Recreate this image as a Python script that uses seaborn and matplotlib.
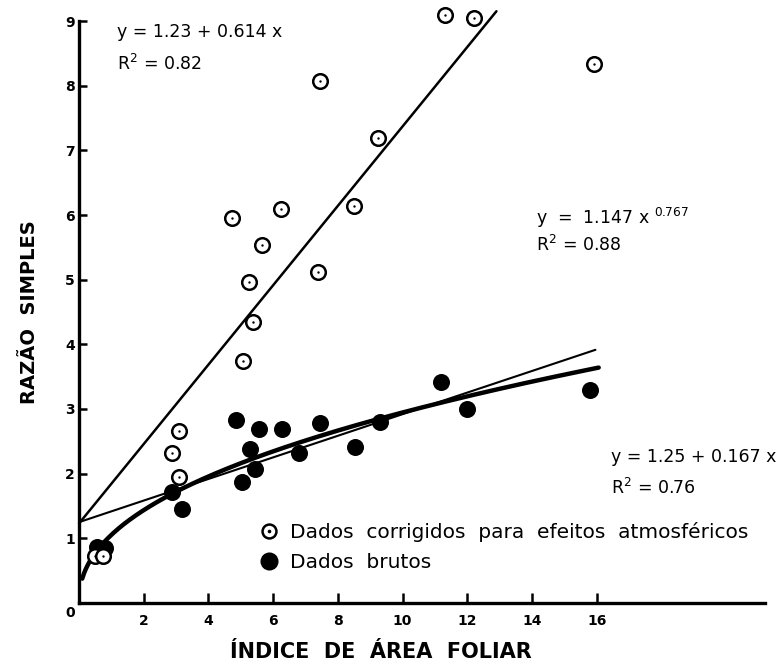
import numpy as np
import matplotlib
matplotlib.use("Agg")
import matplotlib.pyplot as plt
import seaborn as sns
from matplotlib.lines import Line2D
from matplotlib.legend_handler import HandlerTuple

# Índice de área foliar (IAF) e razão simples, dados corrigidos
corr_iaf = [11.3, 12.2, 15.9, 7.44, 9.23, 4.72, 6.23, 8.49, 5.65, 5.25, 7.38,
            5.37, 5.06, 3.09, 2.87, 3.09, 0.50, 0.75]
corr_rs = [9.09, 9.04, 8.33, 8.07, 7.19, 5.95, 6.10, 6.14, 5.53, 4.96, 5.12,
           4.34, 3.74, 2.66, 2.32, 1.95, 0.72, 0.72]

# Dados brutos
raw_iaf = [0.55, 0.80, 2.87, 3.18, 4.85, 5.03, 5.28, 5.43, 5.56, 6.26, 6.80,
           7.44, 8.52, 9.29, 11.2, 12.0, 15.8]
raw_rs = [0.87, 0.85, 1.72, 1.45, 2.83, 1.87, 2.38, 2.07, 2.69, 2.69, 2.32,
          2.78, 2.41, 2.80, 3.42, 3.00, 3.29]

# Ajustes lineares (intercepto, inclinação)
lin_corr = (1.23, 0.614)
lin_raw = (1.25, 0.167)

x_ticks = [2, 4, 6, 8, 10, 12, 14, 16]
y_ticks = [1, 2, 3, 4, 5, 6, 7, 8, 9]

sns.set_theme(style="ticks")
plt.rcParams["font.family"] = ["DejaVu Sans"]
plt.rcParams["mathtext.default"] = "regular"
plt.rcParams["text.color"] = "black"
plt.rcParams["axes.labelcolor"] = "black"

fig = plt.figure(figsize=(7.83, 6.66), dpi=100)
ax = fig.add_axes([79 / 783, 63 / 666, 686 / 783, 582 / 666])

# Retas de regressão
xc = np.linspace(0, 12.9, 50)
sns.lineplot(x=xc, y=lin_corr[0] + lin_corr[1] * xc, color="black", lw=1.8,
             ax=ax, clip_on=False)
xr = np.linspace(0, 15.96, 50)
sns.lineplot(x=xr, y=lin_raw[0] + lin_raw[1] * xr, color="black", lw=1.5,
             ax=ax, clip_on=False)

# Curva potência ajustada aos dados brutos (log-log)
b, ln_a = np.polyfit(np.log(raw_iaf), np.log(raw_rs), 1)
xp = np.linspace(0.1, 16.06, 300)
sns.lineplot(x=xp, y=np.exp(ln_a) * xp ** b, color="black", lw=3.2, ax=ax,
             clip_on=False)

# Pontos
sns.scatterplot(x=raw_iaf, y=raw_rs, s=150, color="black", edgecolor="black",
                linewidth=0, ax=ax, clip_on=False, zorder=4)
sns.scatterplot(x=corr_iaf, y=corr_rs, s=110, color="white", edgecolor="black",
                linewidth=1.8, ax=ax, clip_on=False, zorder=5)
sns.scatterplot(x=corr_iaf, y=corr_rs, s=3, color="black", linewidth=0,
                ax=ax, clip_on=False, zorder=6)

ax.set_xlim(0, 21.2)
ax.set_ylim(0, 9)
ax.set_xticks(x_ticks)
ax.set_xticklabels([str(t) for t in x_ticks], fontweight="bold", fontsize=10)
ax.set_yticks(y_ticks)
ax.set_yticklabels([str(t) for t in y_ticks], fontweight="bold", fontsize=10)
# origem, escrita abaixo do eixo
ax.annotate("0", xy=(0, 0), xytext=(-6, -7), textcoords="offset points",
            ha="center", va="center", fontsize=10, fontweight="bold",
            annotation_clip=False)

ax.tick_params(axis="x", direction="in", length=7, width=1.8, pad=8,
               colors="black")
ax.tick_params(axis="y", direction="in", length=6, width=1.8, pad=3,
               colors="black")
sns.despine(ax=ax)
for s in ("left", "bottom"):
    ax.spines[s].set_linewidth(2.4)
    ax.spines[s].set_color("black")

ax.set_xlabel("ÍNDICE  DE  ÁREA  FOLIAR", fontsize=15, fontweight="bold",
              va="center")
ax.xaxis.set_label_coords(0.44, -0.085)
ax.set_ylabel("RAZÃO  SIMPLES", fontsize=14, fontweight="bold", labelpad=19)

# Equações
eq_kw = dict(fontsize=12.5, color="black", va="center", ha="left")
ax.text(1.17, 8.83, "y = 1.23 + 0.614 x", **eq_kw)
ax.text(1.17, 8.33, "R$^2$ = 0.82", **eq_kw)
ax.text(14.12, 5.95, "y  =  1.147 x $^{0.767}$", **eq_kw)
ax.text(14.12, 5.54, "R$^2$ = 0.88", **eq_kw)
ax.text(16.44, 2.26, "y = 1.25 + 0.167 x", **eq_kw)
ax.text(16.44, 1.78, "R$^2$ = 0.76", **eq_kw)

# Legenda
h_open = (Line2D([], [], marker="o", ls="", mfc="white", mec="black", ms=10,
                 mew=1.8),
          Line2D([], [], marker="o", ls="", color="black", ms=1.6))
h_fill = Line2D([], [], marker="o", ls="", color="black", ms=12)
ax.legend([h_open, h_fill],
          ["Dados  corrigidos  para  efeitos  atmosféricos", "Dados  brutos"],
          handler_map={tuple: HandlerTuple(ndivide=1, pad=0)},
          loc="upper left", bbox_to_anchor=(260 / 783, (666 - 522) / 666),
          bbox_transform=fig.transFigure, frameon=False, fontsize=14.5,
          labelcolor="black", handlelength=0.9, handletextpad=0.6,
          labelspacing=0.55, borderaxespad=0, borderpad=0)

fig.savefig("out.png", dpi=100)
